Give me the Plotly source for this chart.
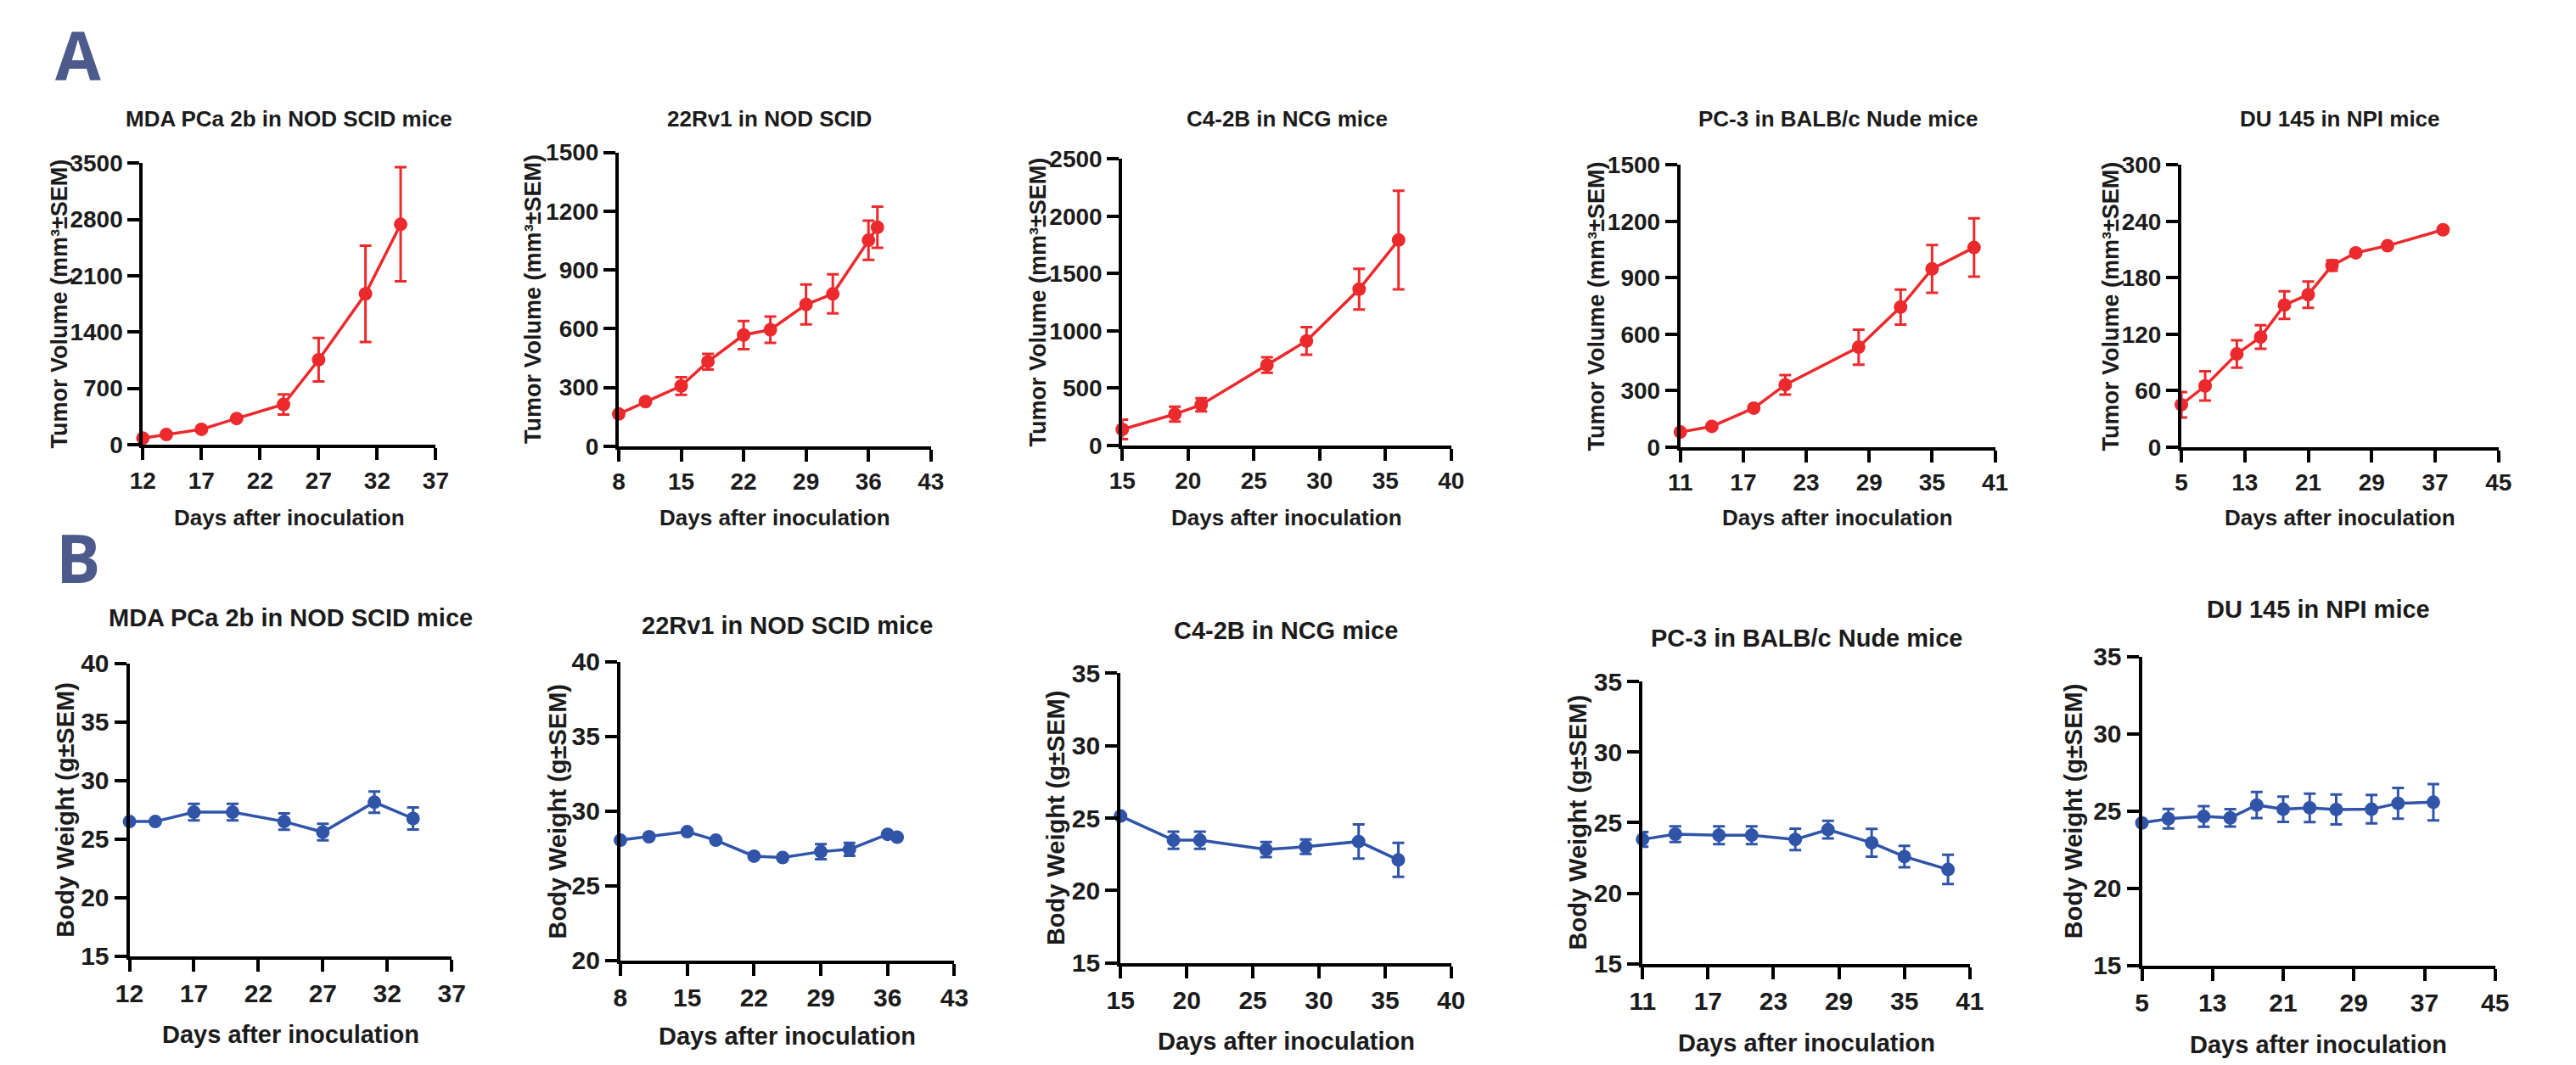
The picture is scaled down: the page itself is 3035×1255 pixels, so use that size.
import plotly.graph_objects as go

W, H = 3035, 1255          # screenshot size
OFF = 8                     # default body margin of the written page
FW, FH = W - 2 * OFF, H - 2 * OFF

# ---------------- DATA ----------------
titles_A = ["MDA PCa 2b in NOD SCID mice", "22Rv1 in NOD SCID", "C4-2B in NCG mice",
            "PC-3 in BALB/c Nude mice", "DU 145 in NPI mice"]
titles_B = ["MDA PCa 2b in NOD SCID mice", "22Rv1 in NOD SCID mice", "C4-2B in NCG mice",
            "PC-3 in BALB/c Nude mice", "DU 145 in NPI mice"]
ytitle_A = "Tumor Volume (mm³±SEM)"
ytitle_B = "Body Weight (g±SEM)"
xtitle = "Days after inoculation"

# A: tumor volume (mm3 +/- SEM)
mda_tv_days = [12, 14, 17, 20, 24, 27, 31, 34]
mda_tv = [80, 125, 190, 325, 500, 1055, 1875, 2740]
mda_tv_sem = [0, 0, 0, 0, 125, 270, 600, 710]

rv1_tv_days = [8, 11, 15, 18, 22, 25, 29, 32, 36, 37]
rv1_tv = [165, 228, 308, 432, 568, 595, 724, 778, 1052, 1118]
rv1_tv_sem = [0, 0, 45, 40, 72, 67, 102, 100, 100, 105]

c42b_tv_days = [15, 19, 21, 26, 29, 33, 36]
c42b_tv = [140, 273, 355, 702, 912, 1364, 1793]
c42b_tv_sem = [85, 65, 58, 67, 120, 178, 430]

pc3_tv_days = [11, 14, 18, 21, 28, 32, 35, 39]
pc3_tv = [80, 110, 207, 331, 531, 744, 947, 1061]
pc3_tv_sem = [0, 0, 0, 52, 93, 93, 127, 155]

du145_tv_days = [5, 8, 12, 15, 18, 21, 24, 27, 31, 38]
du145_tv = [45, 65, 99, 117, 151, 162, 193, 206.5, 214, 231]
du145_tv_sem = [13.5, 15.5, 14.5, 12.5, 14.7, 14, 5.5, 0, 0, 0]

# B: body weight (g +/- SEM)
mda_bw_days = [12, 14, 17, 20, 24, 27, 31, 34]
mda_bw = [26.5, 26.5, 27.3, 27.3, 26.5, 25.6, 28.15, 26.76]
mda_bw_sem = [0, 0, 0.7, 0.7, 0.7, 0.7, 0.9, 0.95]

rv1_bw_days = [8, 11, 15, 18, 22, 25, 29, 32, 36, 37]
rv1_bw = [28.05, 28.28, 28.62, 28.05, 26.98, 26.89, 27.28, 27.44, 28.44, 28.25]
rv1_bw_sem = [0, 0, 0, 0, 0, 0, 0.5, 0.43, 0, 0]

c42b_bw_days = [15, 19, 21, 26, 29, 33, 36]
c42b_bw = [25.14, 23.47, 23.47, 22.83, 23.02, 23.38, 22.11]
c42b_bw_sem = [0, 0.6, 0.6, 0.52, 0.5, 1.18, 1.17]

pc3_bw_days = [11, 14, 18, 21, 25, 28, 32, 35, 39]
pc3_bw = [23.81, 24.18, 24.11, 24.11, 23.81, 24.5, 23.57, 22.59, 21.68]
pc3_bw_sem = [0.52, 0.55, 0.63, 0.63, 0.76, 0.62, 0.98, 0.76, 1.04]

du145_bw_days = [5, 8, 12, 15, 18, 21, 24, 27, 31, 34, 38]
du145_bw = [24.23, 24.5, 24.65, 24.56, 25.39, 25.12, 25.21, 25.1, 25.12, 25.5, 25.57]
du145_bw_sem = [0, 0.63, 0.67, 0.56, 0.85, 0.82, 0.92, 0.97, 0.92, 1.0, 1.17]

# tick labels
xticks_mda = [12, 17, 22, 27, 32, 37]
xticks_rv1 = [8, 15, 22, 29, 36, 43]
xticks_c42b = [15, 20, 25, 30, 35, 40]
xticks_pc3 = [11, 17, 23, 29, 35, 41]
xticks_du145 = [5, 13, 21, 29, 37, 45]

yticks_mda_tv = [0, 700, 1400, 2100, 2800, 3500]
yticks_rv1_tv = [0, 300, 600, 900, 1200, 1500]
yticks_c42b_tv = [0, 500, 1000, 1500, 2000, 2500]
yticks_pc3_tv = [0, 300, 600, 900, 1200, 1500]
yticks_du145_tv = [0, 60, 120, 180, 240, 300]

yticks_mda_bw = [15, 20, 25, 30, 35, 40]
yticks_rv1_bw = [20, 25, 30, 35, 40]
yticks_c42b_bw = [15, 20, 25, 30, 35]
yticks_pc3_bw = [15, 20, 25, 30, 35]
yticks_du145_bw = [15, 20, 25, 30, 35]

# ---------------- STYLE / LAYOUT ----------------
RED = "#EC2A2D"
BLUE = "#2F54A8"
INK = "#1b1b1b"
FONT = "Liberation Sans, Arial, sans-serif"

# panel geometry in screenshot pixels
geomA = [
    dict(x0=153, x1=502, yt=180, yb=521, ty=126, yd=99, xty=610, tdx=0),
    dict(x0=720, x1=1092, yt=167, yb=523, ty=126, yd=102, xty=610, tdx=-6),
    dict(x0=1320, x1=1712, yt=175, yb=522, ty=126, yd=100, xty=610, tdx=0),
    dict(x0=1985, x1=2360, yt=182, yb=524, ty=126, yd=100, xty=610, tdx=0),
    dict(x0=2582, x1=2960, yt=182, yb=524, ty=126, yd=84, xty=610, tdx=0),
]
geomB = [
    dict(x0=137, x1=521, yt=786, yb=1141, ty=731, yd=76, xty=1236, tdx=0),
    dict(x0=722, x1=1120, yt=784, yb=1146, ty=740, yd=75, xty=1238, tdx=0),
    dict(x0=1318, x1=1712, yt=798, yb=1149, ty=746, yd=77, xty=1244, tdx=0),
    dict(x0=1940, x1=2330, yt=808, yb=1150, ty=755, yd=77, xty=1246, tdx=0),
    dict(x0=2535, x1=2956, yt=778, yb=1152, ty=721, yd=82, xty=1248, tdx=0),
]

panelsA = [
    (mda_tv_days, mda_tv, mda_tv_sem, xticks_mda, yticks_mda_tv),
    (rv1_tv_days, rv1_tv, rv1_tv_sem, xticks_rv1, yticks_rv1_tv),
    (c42b_tv_days, c42b_tv, c42b_tv_sem, xticks_c42b, yticks_c42b_tv),
    (pc3_tv_days, pc3_tv, pc3_tv_sem, xticks_pc3, yticks_pc3_tv),
    (du145_tv_days, du145_tv, du145_tv_sem, xticks_du145, yticks_du145_tv),
]
panelsB = [
    (mda_bw_days, mda_bw, mda_bw_sem, xticks_mda, yticks_mda_bw),
    (rv1_bw_days, rv1_bw, rv1_bw_sem, xticks_rv1, yticks_rv1_bw),
    (c42b_bw_days, c42b_bw, c42b_bw_sem, xticks_c42b, yticks_c42b_bw),
    (pc3_bw_days, pc3_bw, pc3_bw_sem, xticks_pc3, yticks_pc3_bw),
    (du145_bw_days, du145_bw, du145_bw_sem, xticks_du145, yticks_du145_bw),
]

fig = go.Figure()
layout = dict(width=FW, height=FH, margin=dict(l=0, r=0, t=0, b=0, pad=0),
              paper_bgcolor="white", plot_bgcolor="rgba(0,0,0,0)", showlegend=False)
annotations = []


def px_x(x):
    return (x - OFF) / FW


def px_y(y):
    return 1 - (y - OFF) / FH


def label(text, x, y, size, angle=0, family=FONT, color=INK):
    annotations.append(dict(text=text, x=px_x(x), y=px_y(y), xref="paper", yref="paper",
                            showarrow=False, xanchor="center", yanchor="middle",
                            textangle=angle,
                            font=dict(family=family, size=size, color=color, weight="bold")))


def add_panel(idx, data, g, color, title, ytitle, fs):
    days, vals, sem, xt, yt = data
    sfx = "" if idx == 1 else str(idx)
    fig.add_trace(go.Scatter(
        x=days, y=vals, mode="lines+markers",
        line=dict(color=color, width=3.5),
        marker=dict(color=color, size=16),
        error_y=dict(type="data", array=sem, visible=True, color=color, thickness=3, width=7),
        xaxis="x" + sfx, yaxis="y" + sfx, cliponaxis=False, hoverinfo="skip"))
    common = dict(showline=True, linewidth=4, linecolor="black", ticks="outside",
                  ticklen=14, tickwidth=4, tickcolor="black", showgrid=False,
                  zeroline=False, fixedrange=True,
                  tickfont=dict(family=FONT, size=fs["tick"], color=INK, weight="bold"))
    layout["xaxis" + sfx] = dict(common, domain=[px_x(g["x0"]), px_x(g["x1"])],
                                 range=[xt[0], xt[-1]], tickvals=xt, anchor="y" + sfx)
    layout["yaxis" + sfx] = dict(common, domain=[px_y(g["yb"]), px_y(g["yt"])],
                                 range=[yt[0], yt[-1]], tickvals=yt, anchor="x" + sfx)
    cx = (g["x0"] + g["x1"]) / 2
    cy = (g["yt"] + g["yb"]) / 2
    label(title, cx + g["tdx"], g["ty"], fs["title"])
    label(ytitle, g["x0"] - g["yd"], cy, fs["ytitle"], angle=-90)
    label(xtitle, cx, g["xty"], fs["xtitle"])


fsA = dict(tick=28, title=26, ytitle=27, xtitle=26)
fsB = dict(tick=30, title=29, ytitle=29, xtitle=29)

for i in range(5):
    add_panel(i + 1, panelsA[i], geomA[i], RED, titles_A[i], ytitle_A, fsA)
for i in range(5):
    add_panel(i + 6, panelsB[i], geomB[i], BLUE, titles_B[i], ytitle_B, fsB)

label("A", 76, 48, 78, family="Open Sans, Liberation Sans, sans-serif", color="#4D5B8C")
label("B", 76, 658, 78, family="Open Sans, Liberation Sans, sans-serif", color="#4D5B8C")

layout["annotations"] = annotations
fig.update_layout(**layout)
fig.write_html("out.html", config={"displayModeBar": False})
